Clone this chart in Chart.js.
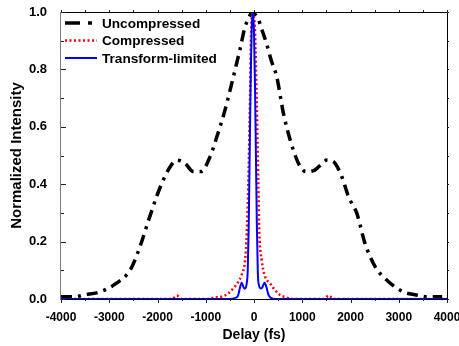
<!DOCTYPE html>
<html>
<head>
<meta charset="utf-8">
<script src="https://cdn.jsdelivr.net/npm/chart.js@4"></script>
<style>
  body { margin: 0; background: #fff; }
  canvas { display: block; }
</style>
</head>
<body>
<canvas id="pulse" width="459" height="346"></canvas>
<script>
// delay axis in fs, intensity normalized
const seriesNames = ['Uncompressed', 'Compressed', 'Transform-limited'];

const uncDelay = [-4000,-3700,-3540,-3190,-2850,-2570,-2400,-2160,-2020,-1880,-1700,-1600,-1430,-1260,-1100,-910,-770,-600,-460,-360,-290,-190,-80,-40,30,90,160,260,360,470,610,750,920,1020,1100,1260,1400,1510,1600,1680,1820,1960,2130,2300,2510,2750,3090,3370,3550,3900];
const uncInt = [0.008,0.008,0.014,0.025,0.055,0.10,0.165,0.287,0.356,0.415,0.47,0.484,0.473,0.444,0.444,0.496,0.565,0.659,0.752,0.821,0.87,0.945,0.99,1.0,0.99,0.975,0.94,0.89,0.83,0.775,0.647,0.554,0.473,0.448,0.444,0.449,0.47,0.484,0.482,0.473,0.426,0.356,0.299,0.194,0.113,0.066,0.025,0.014,0.008,0.008];

const compDelay = [-4000,-1700,-1600,-1500,-900,-840,-670,-530,-430,-325,-255,-185,-150,-118,-83,-60,-28,0,21,56,90,111,160,230,330,435,540,680,760,1450,1550,1650,4000];
const compInt = [0,0,0.012,0,0,0.005,0.008,0.02,0.037,0.06,0.084,0.136,0.229,0.403,0.693,0.93,0.995,0.98,0.93,0.69,0.40,0.23,0.136,0.078,0.055,0.031,0.014,0.005,0,0,0.012,0,0];

const tlDelay = [-4000,-500,-400,-330,-290,-255,-215,-190,-155,-130,-110,-90,-70,-50,-25,0,20,40,60,80,100,140,170,220,260,300,350,450,4000];
const tlInt = [0,0,0.003,0.012,0.04,0.057,0.04,0.036,0.05,0.1,0.25,0.5,0.75,0.93,1.0,0.93,0.75,0.5,0.25,0.09,0.05,0.037,0.04,0.057,0.04,0.014,0.004,0,0];

const xTicks = [-4000,-3000,-2000,-1000,0,1000,2000,3000,4000];
const yTicks = [0.0,0.2,0.4,0.6,0.8,1.0];

const pts = (xs, ys) => xs.map((x, i) => ({x: x, y: ys[i]}));
const FONT = '"Liberation Sans", Arial, sans-serif';

// frame, inward/outward ticks and the in-plot legend
const framePlugin = {
  id: 'frame',
  afterDraw(chart) {
    const {ctx, chartArea: a, scales} = chart;
    const xs = scales.x, ys = scales.y;
    ctx.save();
    ctx.lineWidth = 1;
    ctx.strokeStyle = '#000';
    ctx.beginPath();
    ctx.moveTo(a.left, a.top + 0.5); ctx.lineTo(a.right + 0.5, a.top + 0.5);
    ctx.lineTo(a.right + 0.5, a.bottom);
    ctx.stroke();
    ctx.strokeStyle = '#7a7a7a';
    ctx.beginPath();
    ctx.moveTo(a.left - 0.5, a.top); ctx.lineTo(a.left - 0.5, a.bottom + 1);
    ctx.stroke();
    ctx.strokeStyle = '#222';
    ctx.beginPath();
    for (let v = -4000; v <= 4000; v += 500) {
      const px = Math.round(xs.getPixelForValue(v)) + 0.5;
      const len = v % 1000 === 0 ? 4 : 2;
      ctx.moveTo(px, a.bottom); ctx.lineTo(px, a.bottom + len);
      ctx.moveTo(px, a.top); ctx.lineTo(px, a.top - 2);
    }
    for (let k = 0; k <= 10; k++) {
      const py = Math.round(ys.getPixelForValue(k / 10)) + 0.5;
      const len = k % 2 === 0 ? 5 : 3;
      ctx.moveTo(a.left, py); ctx.lineTo(a.left + len, py);
      ctx.moveTo(a.right, py); ctx.lineTo(a.right + 2, py);
    }
    ctx.stroke();

    // legend
    const rows = [23, 40.5, 58];
    chart.data.datasets.forEach((ds, i) => {
      const y = rows[i];
      ctx.strokeStyle = ds.borderColor;
      ctx.lineWidth = ds.borderWidth;
      ctx.setLineDash(i === 0 ? [15, 8, 4, 8] : (ds.borderDash || []));
      ctx.beginPath();
      ctx.moveTo(a.left + 4, y); ctx.lineTo(a.left + 36, y);
      ctx.stroke();
      ctx.setLineDash([]);
      ctx.fillStyle = '#000';
      ctx.font = 'bold 13.6px ' + FONT;
      ctx.textBaseline = 'middle';
      ctx.textAlign = 'left';
      ctx.fillText(seriesNames[i], a.left + 41, y + 1);
    });
    ctx.restore();
  }
};

new Chart(document.getElementById('pulse').getContext('2d'), {
  type: 'line',
  data: {
    datasets: [{
      label: seriesNames[0],
      data: pts(uncDelay, uncInt),
      borderColor: '#000',
      borderWidth: 3.5,
      borderDash: [11, 6, 3, 6],
      cubicInterpolationMode: 'monotone',
      pointRadius: 0,
      order: 3
    }, {
      label: seriesNames[1],
      data: pts(compDelay, compInt),
      borderColor: '#ff0000',
      borderWidth: 2.5,
      borderDash: [2, 2.5],
      cubicInterpolationMode: 'monotone',
      pointRadius: 0,
      order: 2
    }, {
      label: seriesNames[2],
      data: pts(tlDelay, tlInt),
      borderColor: '#0000ff',
      borderWidth: 2,
      cubicInterpolationMode: 'monotone',
      pointRadius: 0,
      order: 1
    }]
  },
  options: {
    responsive: false,
    animation: false,
    devicePixelRatio: 1,
    layout: { padding: { left: 0, top: 12, right: 12, bottom: 0 } },
    plugins: { legend: { display: false }, tooltip: { enabled: false } },
    scales: {
      x: {
        type: 'linear',
        min: -4000, max: 4000,
        afterBuildTicks: s => { s.ticks = xTicks.map(v => ({value: v})); },
        afterFit: s => { s.height = 47; s.paddingLeft = 0; s.paddingRight = 0; },
        grid: { display: false },
        border: { display: true, color: '#000', width: 1 },
        ticks: { color: '#000', padding: 3, maxRotation: 0, autoSkip: false,
                 callback: v => String(v),
                 font: { family: FONT, size: 12, weight: 'bold' } },
        title: { display: true, text: 'Delay (fs)', color: '#000',
                 padding: { top: 0, bottom: 2 },
                 font: { family: FONT, size: 14, weight: 'bold' } }
      },
      y: {
        min: 0, max: 1,
        afterBuildTicks: s => { s.ticks = yTicks.map(v => ({value: v})); },
        afterFit: s => { s.width = 61; s.paddingTop = 0; s.paddingBottom = 0; },
        grid: { display: false },
        border: { display: false },
        ticks: { color: '#000', padding: 6,
                 callback: v => v.toFixed(1),
                 font: { family: FONT, size: 13, weight: 'bold' } },
        title: { display: true, text: 'Normalized Intensity', color: '#000',
                 padding: { top: 8, bottom: 0 },
                 font: { family: FONT, size: 15, weight: 'bold' } }
      }
    }
  },
  plugins: [framePlugin]
});
</script>
</body>
</html>
